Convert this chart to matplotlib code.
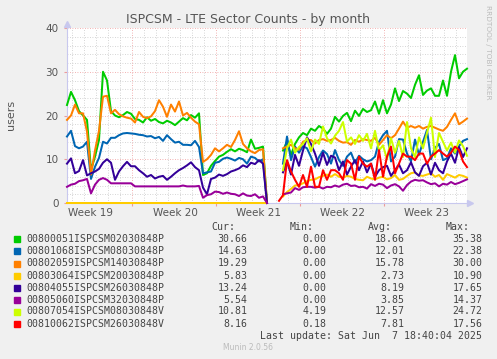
import numpy as np
import matplotlib
matplotlib.use('Agg')
import matplotlib.pyplot as plt
from matplotlib.patches import Rectangle

nan = np.nan

# ---- data (sampled every 8 hours, NaN = no data) ----
names = ["00800051ISPCSM02030848P", "00801068ISPCSM08030848P", "00802059ISPCSM14030848P",
         "00803064ISPCSM20030848P", "00804055ISPCSM26030848P", "00805060ISPCSM32030848P",
         "00807054ISPCSM08030848V", "00810062ISPCSM26030848V"]
colors = ["#00CC00", "#0066B3", "#FF8000", "#FFCC00", "#330099", "#990099", "#CCFF00", "#FF0000"]
cur = ["30.66", "14.63", "19.29", "5.83", "13.24", "5.54", "10.81", "8.16"]
mins = ["0.00", "0.00", "0.00", "0.00", "0.00", "0.00", "4.19", "0.18"]
avgs = ["18.66", "12.01", "15.78", "2.73", "8.19", "3.85", "12.57", "7.81"]
maxs = ["35.38", "22.38", "30.00", "10.90", "17.65", "14.37", "24.72", "17.56"]

green = [22.4, 25.4, 23.5, 21.0, 20.0, 19.0, 7.5, 10.6, 14.4, 30.0,
         28.0, 21.0, 20.0, 19.6, 20.1, 20.8, 20.4, 19.2, 19.0, 18.4,
         19.6, 18.8, 19.2, 18.5, 18.2, 18.8, 18.4, 17.8, 18.6, 19.4,
         18.9, 20.1, 19.5, 20.5, 6.4, 6.8, 8.5, 9.6, 10.6, 11.0,
         11.7, 12.3, 11.8, 12.4, 12.1, 11.6, 14.5, 12.4, 12.6, 12.9,
         0.0, nan, nan, nan, 12.0, 14.0, 11.0, 13.5, 15.0, 16.0,
         15.5, 17.0, 16.5, 17.6, 17.0, 15.8, 17.0, 19.7, 18.6, 19.9,
         20.6, 18.7, 21.1, 19.9, 21.5, 20.8, 21.2, 23.2, 20.4, 23.5,
         20.5, 22.5, 26.2, 23.3, 25.6, 25.0, 24.0, 27.0, 29.2, 24.7,
         25.7, 26.2, 24.5, 24.5, 28.0, 24.5, 30.0, 33.8, 28.5, 30.0,
         30.7]
blue = [15.2, 16.5, 13.0, 12.5, 12.9, 14.0, 5.5, 8.3, 10.3, 14.0,
        13.6, 14.9, 14.9, 15.5, 15.9, 16.0, 15.9, 15.8, 15.6, 15.5,
        15.2, 15.3, 14.8, 15.1, 14.2, 15.5, 14.6, 13.8, 14.0, 13.3,
        13.3, 13.2, 14.2, 12.8, 6.8, 7.0, 7.2, 9.2, 9.4, 10.1,
        10.4, 10.1, 9.7, 10.3, 10.0, 9.0, 10.6, 10.3, 9.5, 10.0,
        0.0, nan, nan, nan, 9.0, 15.2, 9.8, 12.9, 11.5, 13.0,
        12.5, 10.5, 8.3, 10.5, 12.0, 11.2, 9.0, 12.1, 9.8, 8.5,
        10.6, 11.5, 9.2, 10.8, 10.0, 9.5, 9.8, 10.6, 14.0, 15.5,
        16.5, 9.5, 10.6, 14.6, 14.5, 11.3, 9.5, 14.5, 11.0, 14.0,
        16.7, 10.0, 12.6, 13.5, 9.8, 10.2, 12.5, 11.3, 13.0, 14.2,
        14.6]
orange = [19.0, 20.0, 22.5, 20.5, 20.5, 16.3, 6.5, 12.0, 16.5, 24.3,
          24.5, 20.5, 21.3, 20.3, 19.8, 19.5, 19.3, 18.4, 20.8, 19.7,
          19.4, 19.8, 21.0, 23.5, 22.0, 19.7, 22.5, 20.9, 23.2, 20.0,
          20.6, 19.5, 18.6, 18.0, 9.4, 10.0, 11.0, 12.5, 11.8, 12.5,
          13.3, 12.8, 14.4, 16.4, 13.5, 12.5, 11.8, 11.4, 12.1, 12.3,
          0.0, nan, nan, nan, 12.5, 12.9, 13.3, 12.5, 12.2, 14.0,
          14.4, 14.4, 13.6, 14.4, 14.6, 14.2, 14.4, 14.9, 14.2, 13.8,
          13.9, 13.3, 14.4, 14.0, 14.6, 14.4, 14.2, 14.9, 13.3, 14.4,
          15.5, 14.8, 15.5, 17.0, 18.6, 17.2, 17.6, 17.2, 17.6, 17.0,
          17.4, 17.6, 17.2, 16.8, 16.5, 17.4, 19.0, 20.5, 18.0, 18.6,
          19.3]
yellow = [0.0, 0.0, 0.0, 0.0, 0.0, 0.0, 0.0, 0.0, 0.0, 0.0,
          0.0, 0.0, 0.0, 0.0, 0.0, 0.0, 0.0, 0.0, 0.0, 0.0,
          0.0, 0.0, 0.0, 0.0, 0.0, 0.0, 0.0, 0.0, 0.0, 0.0,
          0.0, 0.0, 0.0, 0.0, 0.0, 0.0, 0.0, 0.0, 0.0, 0.0,
          0.0, 0.0, 0.0, 0.0, 0.0, 0.0, 0.0, 0.0, 0.0, 0.0,
          0.0, nan, nan, nan, 1.5, 2.5, 3.2, 4.0, 4.1, 4.5,
          5.0, 5.3, 5.4, 5.9, 6.2, 6.5, 6.0, 6.6, 6.0, 5.8,
          6.2, 6.0, 5.5, 5.3, 5.2, 6.0, 5.6, 5.4, 5.8, 6.0,
          5.4, 5.7, 6.4, 5.3, 5.5, 6.2, 6.8, 7.0, 6.3, 6.2,
          6.5, 6.8, 6.0, 6.4, 5.3, 6.6, 6.2, 5.8, 6.4, 6.2,
          5.8]
indigo = [9.0, 10.2, 6.8, 7.3, 9.8, 6.3, 6.8, 7.2, 7.8, 9.2,
          10.0, 9.2, 5.3, 7.2, 8.4, 9.4, 8.4, 8.4, 7.5, 6.8,
          6.0, 6.4, 5.6, 6.0, 6.2, 5.3, 6.0, 6.8, 7.5, 8.0,
          8.6, 9.3, 8.2, 7.5, 3.5, 2.0, 5.5, 5.8, 6.5, 6.2,
          6.6, 7.2, 7.5, 7.9, 8.6, 8.2, 9.2, 8.9, 9.8, 9.0,
          0.0, nan, nan, nan, 7.0, 9.5, 6.5, 11.0, 8.5, 12.0,
          15.0, 13.5, 11.3, 8.5, 11.5, 8.7, 10.8, 10.4, 7.5, 9.5,
          6.5, 8.3, 9.8, 7.5, 9.5, 7.0, 9.0, 6.0, 7.5, 8.2,
          8.5, 6.2, 7.5, 8.8, 6.8, 7.5, 9.3, 7.0, 6.2, 8.4,
          9.2, 6.5, 9.2, 7.5, 6.8, 9.5, 11.3, 9.2, 12.8, 10.5,
          12.5]
magenta = [3.7, 4.2, 4.4, 5.0, 5.2, 5.5, 2.2, 4.2, 5.3, 5.7,
           5.3, 4.5, 4.5, 4.5, 4.5, 4.5, 4.5, 3.8, 3.8, 3.8,
           3.8, 3.8, 3.8, 3.8, 3.8, 3.8, 3.8, 3.8, 3.8, 4.0,
           3.8, 3.8, 3.8, 3.9, 1.2, 1.8, 2.0, 2.6, 2.5, 2.1,
           2.4, 2.1, 2.0, 1.6, 2.2, 1.7, 1.6, 2.0, 1.2, 1.5,
           0.0, nan, nan, nan, 2.0, 2.2, 2.4, 3.4, 3.0, 3.6,
           3.7, 3.7, 3.5, 3.7, 3.3, 3.7, 3.6, 4.0, 3.7, 4.2,
           4.4, 3.9, 4.0, 3.6, 3.7, 3.3, 4.3, 3.9, 4.4, 4.2,
           3.4, 4.0, 4.3, 3.8, 2.8, 4.1, 4.9, 5.3, 5.1, 5.2,
           4.7, 4.3, 4.5, 3.8, 4.4, 4.2, 4.8, 4.3, 4.6, 5.0,
           5.4]
lime = [nan, nan, nan, nan, nan, nan, nan, nan, nan, nan,
        nan, nan, nan, nan, nan, nan, nan, nan, nan, nan,
        nan, nan, nan, nan, nan, nan, nan, nan, nan, nan,
        nan, nan, nan, nan, nan, nan, nan, nan, nan, nan,
        nan, nan, nan, nan, nan, nan, nan, nan, nan, nan,
        nan, nan, nan, nan, 7.5, 12.5, 14.5, 11.5, 12.8, 13.5,
        14.8, 11.8, 14.5, 13.5, 17.5, 14.8, 13.6, 15.4, 16.5, 18.5,
        14.0, 15.0, 13.5, 15.5, 14.2, 15.8, 12.5, 16.5, 12.0, 13.2,
        10.0, 14.8, 11.5, 14.2, 10.5, 18.5, 12.5, 10.5, 15.0, 12.5,
        16.0, 19.5, 10.5, 16.0, 14.0, 12.0, 13.8, 11.5, 14.3, 13.0,
        10.8]
red = [nan, nan, nan, nan, nan, nan, nan, nan, nan, nan,
       nan, nan, nan, nan, nan, nan, nan, nan, nan, nan,
       nan, nan, nan, nan, nan, nan, nan, nan, nan, nan,
       nan, nan, nan, nan, nan, nan, nan, nan, nan, nan,
       nan, nan, nan, nan, nan, nan, nan, nan, nan, nan,
       nan, nan, nan, 0.5, 1.8, 9.8, 7.2, 5.3, 3.7, 6.4,
       3.7, 8.3, 3.7, 3.7, 7.5, 5.3, 7.5, 7.5, 6.8, 5.3,
       9.8, 9.0, 5.3, 10.6, 9.0, 8.3, 9.0, 5.3, 12.1, 6.0,
       10.6, 12.9, 6.8, 9.0, 11.3, 10.6, 10.6, 9.8, 11.3, 11.3,
       9.0, 10.6, 11.3, 12.1, 11.3, 10.6, 11.5, 12.9, 12.1, 9.5,
       8.2]
series = [green, blue, orange, yellow, indigo, magenta, lime, red]

week_labels = ["Week 19", "Week 20", "Week 21", "Week 22", "Week 23"]
y_ticks = [0, 10, 20, 30, 40]
title = "ISPCSM - LTE Sector Counts - by month"
last_update = "Last update: Sat Jun  7 18:40:04 2025"

# ---- figure ----
W, H = 497, 359
BG = '#F0F0F0'
fig = plt.figure(figsize=(W / 100, H / 100), dpi=100, facecolor=BG)
ax = fig.add_axes([67 / W, 1 - 203 / H, 400 / W, 175 / H])
ax.set_facecolor('white')

span = 400 / 12.0          # days shown (12 px per day)
week0 = (132.3 - 67) / 12  # first week boundary
ax.set_xlim(0, span)
ax.set_ylim(0, 40)

# grid
for y in range(2, 41, 2):
    if y % 10:
        ax.axhline(y, color='#C8C8C8', lw=0.6, ls=(0, (1, 2)), zorder=0)
    else:
        ax.axhline(y, color='#EE9999', lw=0.6, ls=(0, (1, 2)), zorder=0)
d = week0 - 5
while d < span:
    if d > 0:
        if abs((d - week0) - 7 * round((d - week0) / 7)) < 1e-6:
            ax.axvline(d, color='#EE9999', lw=0.6, ls=(0, (1, 2)), zorder=0)
        else:
            ax.axvline(d, color='#C8C8C8', lw=0.6, ls=(0, (1, 2)), zorder=0)
    d += 1

t = np.arange(len(green)) / 3.0
for vals, c in zip(series, colors):
    ax.plot(t, vals, color=c, lw=1.45, zorder=3, clip_on=False)

for s in ['top', 'right']:
    ax.spines[s].set_visible(False)
for s in ['left', 'bottom']:
    ax.spines[s].set_color('#C8C8EE')
    ax.spines[s].set_linewidth(0.8)
ax.plot([span + 0.25], [0], marker='>', ms=4, color='#C8C8EE', clip_on=False, zorder=4)
ax.plot([0], [40.9], marker='^', ms=4, color='#C8C8EE', clip_on=False, zorder=4)

ax.set_yticks(y_ticks)
ax.set_yticklabels([str(v) for v in y_ticks])
ax.tick_params(axis='y', labelsize=7.5, labelcolor='#555555', length=2, color='#EE9999', pad=4)
week_bounds = [week0 + 7 * k for k in range(4)]
ax.set_xticks(week_bounds)
ax.set_xticklabels([''] * len(week_bounds))
ax.tick_params(axis='x', length=2, color='#EE9999')
for k, lab in enumerate(week_labels):
    ax.text(2 + 7 * k, -2.3, lab, ha='center', va='center', fontsize=7.5, color='#555555')

fig.text(248 / W, 1 - 19 / H, title, ha='center', va='center', fontsize=9, color='#555555')
fig.text(11 / W, 1 - 115 / H, "users", rotation=90, ha='center', va='center', fontsize=8, color='#555555')
fig.text(488 / W, 1 - 5 / H, "RRDTOOL / TOBI OETIKER", rotation=270, ha='center', va='top',
         fontsize=5.3, color='#BBBBBB')

# legend
mono = dict(family='DejaVu Sans Mono', fontsize=7.1, color='#444444', va='center')
hy = 227.3
for txt, xr in zip(["Cur:", "Min:", "Avg:", "Max:"], [235, 314, 392, 470]):
    fig.text(xr / W, 1 - hy / H, txt, ha='right', **mono)
row_y = [239, 251.3, 263.5, 275.7, 287.7, 299.7, 311.5, 323.7]
for i in range(len(names)):
    y = row_y[i]
    fig.add_artist(Rectangle((14 / W, 1 - (y + 3) / H), 6 / W, 6 / H,
                             transform=fig.transFigure, color=colors[i]))
    fig.text(26.7 / W, 1 - y / H, names[i], ha='left', **mono)
    fig.text(247.7 / W, 1 - y / H, cur[i], ha='right', **mono)
    fig.text(326.7 / W, 1 - y / H, mins[i], ha='right', **mono)
    fig.text(404.3 / W, 1 - y / H, avgs[i], ha='right', **mono)
    fig.text(482.3 / W, 1 - y / H, maxs[i], ha='right', **mono)
fig.text(482.3 / W, 1 - 335.7 / H, last_update, ha='right', **mono)
fig.text(248 / W, 1 - 347.7 / H, "Munin 2.0.56", ha='center', va='center', fontsize=5.5, color='#BBBBBB')

fig.savefig('out.png', dpi=100, facecolor=BG)
